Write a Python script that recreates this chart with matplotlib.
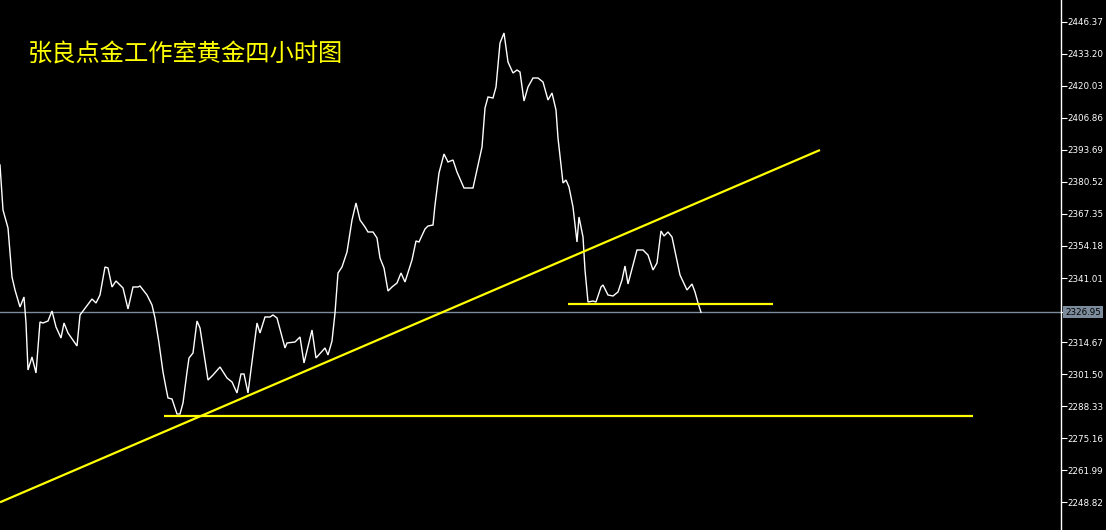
import matplotlib
matplotlib.use("Agg")
import matplotlib.pyplot as plt

# ---- data ----
title_text = "张良点金工作室黄金四小时图"

bar_x = [0, 3, 8, 12, 15, 20, 24, 26, 28, 32, 36, 40, 43, 48, 52, 56, 61, 64, 68, 77,
         80, 92, 96, 100, 105, 108, 112, 116, 123, 128, 133, 138, 140, 147, 152, 155, 159, 163, 166, 168,
         172, 177, 180, 183, 187, 189, 193, 197, 200, 208, 213, 220, 227, 232, 237, 241, 244, 248, 257, 260,
         265, 270, 273, 277, 285, 287, 295, 300, 304, 312, 316, 325, 328, 332, 335, 338, 342, 347, 352, 356,
         360, 365, 368, 373, 377, 380, 384, 388, 392, 397, 401, 405, 412, 416, 419, 425, 428, 433, 435, 439,
         444, 448, 453, 457, 464, 473, 478, 482, 485, 488, 493, 496, 500, 504, 508, 513, 517, 520, 524, 528,
         533, 538, 543, 548, 552, 556, 558, 563, 566, 569, 573, 577, 579, 583, 585, 588, 593, 596, 601, 603,
         608, 613, 618, 622, 625, 628, 637, 643, 648, 653, 657, 661, 664, 668, 672, 680, 687, 692, 695, 698,
         701]

close_price = [2387.47, 2368.97, 2361.57, 2341.43, 2336.09, 2329.10, 2333.21, 2322.52, 2303.20, 2308.55,
               2301.97, 2322.93, 2322.52, 2323.34, 2327.45, 2320.88, 2316.35, 2322.52, 2318.41, 2313.07,
               2325.81, 2332.39, 2330.74, 2334.03, 2345.54, 2345.13, 2337.32, 2339.78, 2336.91, 2328.28,
               2337.32, 2337.32, 2337.73, 2334.03, 2329.92, 2324.58, 2314.30, 2302.38, 2295.80, 2291.69,
               2291.28, 2285.12, 2285.12, 2289.64, 2302.38, 2308.13, 2310.19, 2323.34, 2320.47, 2299.09,
               2301.15, 2304.43, 2299.91, 2298.27, 2293.75, 2301.56, 2301.56, 2293.75, 2322.52, 2318.41,
               2324.99, 2324.99, 2325.81, 2324.58, 2312.24, 2314.30, 2314.71, 2316.77, 2306.08, 2319.64,
               2308.13, 2312.24, 2309.37, 2315.12, 2326.63, 2343.07, 2345.54, 2351.71, 2364.86, 2371.85,
               2364.86, 2361.98, 2359.93, 2359.93, 2357.46, 2349.24, 2345.13, 2335.67, 2337.32, 2338.96,
               2343.07, 2339.37, 2348.42, 2356.23, 2355.82, 2361.16, 2362.39, 2362.80, 2371.02, 2384.18,
               2391.99, 2388.70, 2389.52, 2384.59, 2378.01, 2378.01, 2387.47, 2394.87, 2410.90, 2415.42,
               2415.01, 2419.53, 2437.61, 2441.73, 2429.80, 2425.28, 2426.52, 2425.69, 2413.77, 2419.53,
               2423.23, 2423.23, 2421.58, 2414.18, 2417.06, 2410.07, 2398.57, 2380.07, 2381.30, 2378.42,
               2370.20, 2355.82, 2366.09, 2357.87, 2344.31, 2331.15, 2331.56, 2331.15, 2337.32, 2338.14,
               2334.03, 2333.62, 2335.26, 2340.20, 2345.95, 2338.55, 2352.53, 2352.53, 2350.47, 2344.31,
               2347.18, 2360.34, 2358.28, 2359.93, 2357.87, 2342.25, 2336.09, 2338.55, 2335.26, 2330.74,
               2326.95]

current_price = 2326.95

# yellow drawn lines
trend_x = [0, 820]
trend_price = [2248.82, 2393.63]
support_x = [164, 973]
support_price = [2284.42, 2284.42]
neck_x = [568, 773]
neck_price = [2330.33, 2330.33]

tick_values = [2446.37, 2433.20, 2420.03, 2406.86, 2393.69, 2380.52, 2367.35, 2354.18,
               2341.01, 2314.67, 2301.50, 2288.33, 2275.16, 2261.99, 2248.82]
tick_labels = ["2446.37", "2433.20", "2420.03", "2406.86", "2393.69", "2380.52", "2367.35", "2354.18",
               "2341.01", "2314.67", "2301.50", "2288.33", "2275.16", "2261.99", "2248.82"]

# ---- figure ----
W, H, DPI = 1106, 530, 100
fig = plt.figure(figsize=(W / DPI, H / DPI), dpi=DPI, facecolor="black")
axis_px = 1061
ax = fig.add_axes([0, 0, axis_px / W, 1.0], facecolor="black")

ax.set_xlim(0, axis_px)
ax.set_ylim(2237.43, 2455.29)

ax.plot(bar_x, close_price, color="white", lw=1.0, solid_joinstyle="miter", zorder=3)

grey = "#7d8c9c"
ax.axhline(current_price, color=grey, lw=1.0, zorder=2)

yellow = "#ffff00"
ax.plot(trend_x, trend_price, color=yellow, lw=1.6, zorder=4, solid_capstyle="butt")
ax.plot(support_x, support_price, color=yellow, lw=1.6, zorder=4, solid_capstyle="butt")
ax.plot(neck_x, neck_price, color=yellow, lw=1.6, zorder=4, solid_capstyle="butt")

# axes styling
for s in ["left", "top", "bottom"]:
    ax.spines[s].set_visible(False)
ax.spines["right"].set_color("white")
ax.spines["right"].set_linewidth(1.0)
ax.set_xticks([])
ax.yaxis.tick_right()
ax.set_yticks(tick_values + [current_price])
ax.set_yticklabels(tick_labels + [""])
ax.tick_params(axis="y", colors="white", length=4, width=0.8, pad=0.3,
               labelsize=6.3, direction="out")

# current price label box
ax.text(1.0 + 4 / axis_px, current_price, "2326.95", transform=ax.get_yaxis_transform(),
        ha="left", va="center", fontsize=6.3, color="black", clip_on=False,
        bbox=dict(boxstyle="square,pad=0.2", facecolor="#7d8c9c", edgecolor="none"))

# title
fig.text(28 / W, 1 - 55 / H, title_text, color=yellow, fontsize=17.5,
         family=["Noto Sans CJK SC", "DejaVu Sans"], ha="left", va="center")

fig.savefig("out.png", dpi=DPI, facecolor="black")
